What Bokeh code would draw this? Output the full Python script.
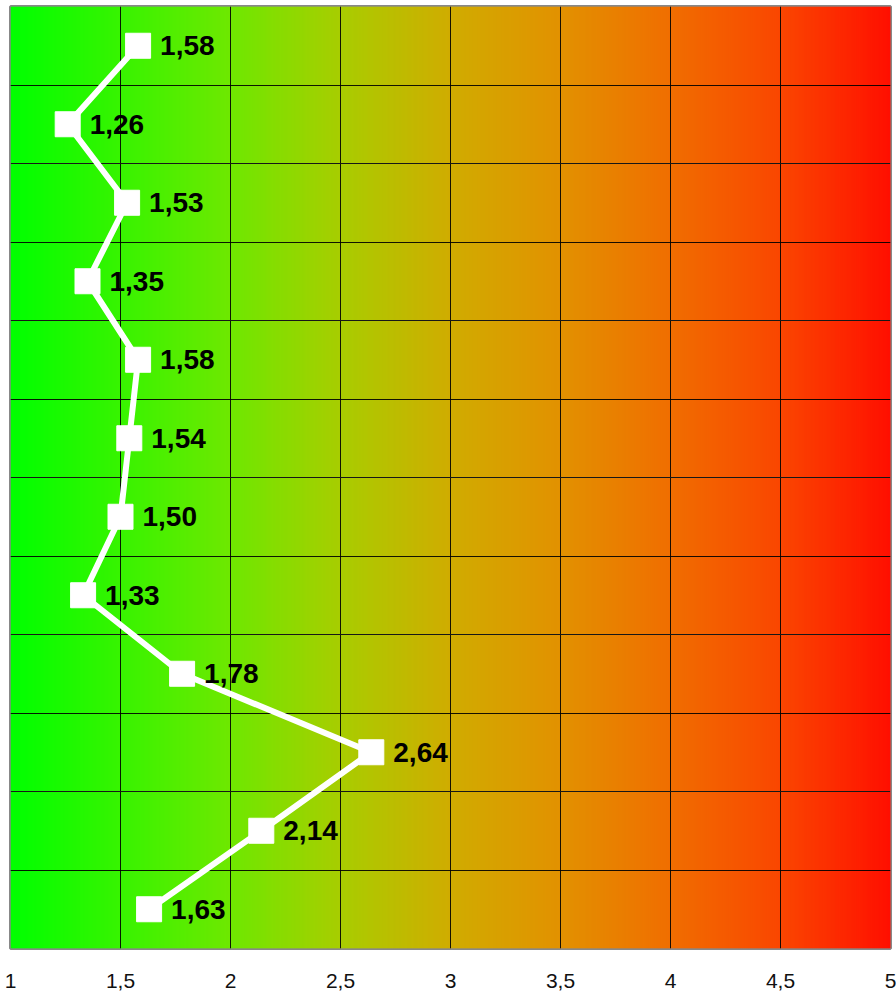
import numpy as np
from bokeh.plotting import figure
from bokeh.models import ColumnDataSource, FixedTicker, Grid, Range1d
from bokeh.core.properties import value
from bokeh.embed import file_html
from bokeh.resources import INLINE

# Series values, top row first
scores = [1.58, 1.26, 1.53, 1.35, 1.58, 1.54, 1.50, 1.33, 1.78, 2.64, 2.14, 1.63]
rows = list(range(len(scores)))
x_ticks = [1, 1.5, 2, 2.5, 3, 3.5, 4, 4.5, 5]
x_tick_labels = ["1", "1,5", "2", "2,5", "3", "3,5", "4", "4,5", "5"]

row_centers = [r + 0.5 for r in rows]
score_labels = [f"{v:.2f}".replace(".", ",") for v in scores]
source = ColumnDataSource(data=dict(x=scores, y=row_centers, label=score_labels))

p = figure(
    width=896, height=994,
    x_range=Range1d(1, 5), y_range=Range1d(len(scores), 0),
    output_backend="svg", toolbar_location=None,
    y_axis_location=None,
    min_border_left=10, min_border_right=6, min_border_top=6, min_border_bottom=46,
)
p.background_fill_color = "white"
p.border_fill_color = "white"
p.outline_line_color = "#888888"
p.outline_line_width = 3

# horizontal green -> yellow -> red background gradient, drawn as thin strips
stops_t = [0.0, 0.25, 0.375, 0.5, 0.625, 0.75, 0.875, 1.0]
stops_r = [0, 110, 168, 208, 226, 240, 250, 255]
stops_g = [255, 232, 205, 172, 145, 110, 70, 15]
n = 440
edges = np.linspace(1, 5, n + 1)
mids = (np.arange(n) + 0.5) / n
rr = np.interp(mids, stops_t, stops_r).round().astype(int)
gg = np.interp(mids, stops_t, stops_g).round().astype(int)
strip_colors = [f"#{a:02x}{b:02x}00" for a, b in zip(rr, gg)]
p.quad(left=edges[:-1], right=edges[1:] + 0.004, bottom=len(scores), top=0,
       fill_color=strip_colors, line_color=None, level="image")

# grid
p.xgrid.ticker = FixedTicker(ticks=x_ticks)
p.xgrid.grid_line_color = "black"
p.xgrid.grid_line_width = 1
p.xgrid.grid_line_alpha = 0.9
p.add_layout(Grid(dimension=1, ticker=FixedTicker(ticks=list(range(1, len(scores)))),
                  grid_line_color="black", grid_line_width=1, grid_line_alpha=0.9))

# x axis: labels only
p.xaxis.ticker = FixedTicker(ticks=x_ticks)
p.xaxis.major_label_overrides = {t_: lab for t_, lab in zip(x_ticks, x_tick_labels)}
p.xaxis.axis_line_color = None
p.xaxis.major_tick_line_color = None
p.xaxis.minor_tick_line_color = None
p.xaxis.major_label_standoff = 19
p.xaxis.major_label_text_font = "Liberation Sans"
p.xaxis.major_label_text_font_size = "21px"
p.xaxis.major_label_text_color = "#111111"

# series
p.line("x", "y", source=source, line_color="white", line_width=6)
p.scatter("x", "y", source=source, marker="square", size=25,
          fill_color="white", line_color="white")
p.text("x", "y", text="label", source=source, x_offset=22, y_offset=0,
       text_font=value("Liberation Sans"), text_font_style="bold",
       text_font_size="28px", text_color="black",
       text_align="left", text_baseline="middle")

open("out.html", "w").write(file_html(p, INLINE))
